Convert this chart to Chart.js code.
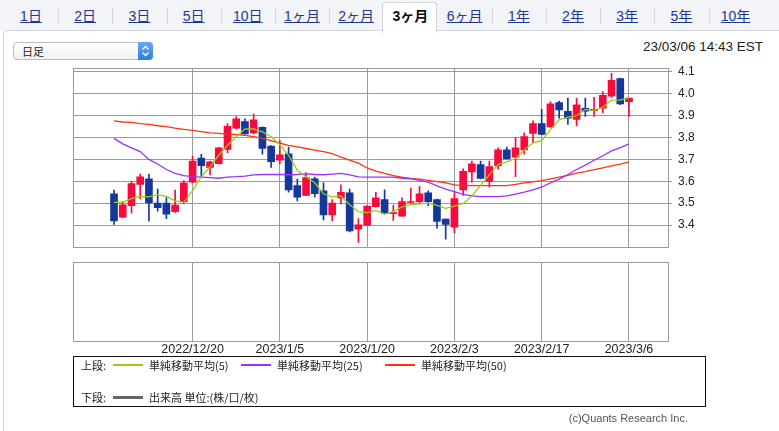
<!DOCTYPE html>
<html lang="ja">
<head>
<meta charset="utf-8">
<script src="https://cdn.jsdelivr.net/npm/chart.js@4.4.1/dist/chart.umd.min.js"></script>
<style>
  html, body { margin: 0; padding: 0; background: #fff; }
  body { width: 779px; height: 431px; position: relative; overflow: hidden;
         font-family: "Liberation Sans", Arial, "Noto Sans CJK JP", sans-serif; color: #222; }
  #tabbar { position: absolute; left: 0; top: 0; width: 779px; height: 30px; background: #f2f4f8; }
  #panel { position: absolute; left: 3px; top: 30px; width: 800px; height: 420px; background: #fff;
           border-top: 1px solid #cfd6e0; border-left: 1px solid #cfd6e0; border-top-left-radius: 4px; }
  .tab { position: absolute; top: 6px; height: 20px; width: 54px; text-align: center; font-size: 14px;
         color: #1d3796; text-decoration: underline; line-height: 20px; }
  .tab.sel { color: #111; font-weight: bold; text-decoration: none; }
  #seltab { position: absolute; top: 2px; left: 382px; width: 53px; height: 30px; background: #fff;
            border: 1px solid #cfd6e0; border-bottom: none; border-radius: 3px 3px 0 0; }
  .sep { position: absolute; top: 8px; width: 1px; height: 16px; background: #d3d7de; }
  #select { position: absolute; left: 13px; top: 42px; width: 138px; height: 16px; border: 1px solid #bcbcbc;
            border-radius: 4px; background: linear-gradient(#fff, #f1f1f1); font-size: 11px; line-height: 16px; }
  #select span { position: absolute; left: 8px; top: 0; font-family: "Noto Sans CJK JP", sans-serif; }
  #select .step { position: absolute; right: -1px; top: -1px; width: 15px; height: 18px; border-radius: 0 4px 4px 0;
                  background: linear-gradient(#6aa8f7, #2f7be6); }
  #stamp { position: absolute; right: 16px; top: 39px; font-size: 13.5px; color: #222; }
  canvas { position: absolute; left: 0; }
  #legend { position: absolute; left: 73px; top: 356px; width: 631px; height: 49px; border: 1px solid #111;
            font-size: 11px; font-family: "Noto Sans CJK JP", sans-serif; color: #222; }
  .lg { position: absolute; white-space: nowrap; line-height: 14px; }
  .sw { position: absolute; }
  #copy { position: absolute; right: 91px; top: 412px; font-size: 11px; color: #555; }
</style>
</head>
<body>
<div id="tabbar"></div>
<div id="panel"></div>
<div id="seltab"></div>
<div id="tabs"></div>
<div id="select"><span>日足</span><div class="step">
  <svg width="15" height="18" viewBox="0 0 15 18"><path d="M4.5 7.5 L7.5 4.5 L10.5 7.5 M4.5 10.5 L7.5 13.5 L10.5 10.5" stroke="#fff" stroke-width="1.3" fill="none"/></svg>
</div></div>
<div id="stamp">23/03/06 14:43 EST</div>
<canvas id="price" width="779" height="205" style="top:55px"></canvas>
<canvas id="volume" width="779" height="115" style="top:255px"></canvas>
<div id="legend"></div>
<div id="copy">(c)Quants Research Inc.</div>
<script>
// 期間タブ
const tabNames = ['1日', '2日', '3日', '5日', '10日', '1ヶ月', '2ヶ月', '3ヶ月', '6ヶ月', '1年', '2年', '3年', '5年', '10年'];
const selectedTab = '3ヶ月';

// 日付（日足）
const dates = [
  '2022/12/7', '2022/12/8', '2022/12/9', '2022/12/12', '2022/12/13', '2022/12/14', '2022/12/15', '2022/12/16', '2022/12/19',
  '2022/12/20', '2022/12/21', '2022/12/22', '2022/12/23', '2022/12/27', '2022/12/28', '2022/12/29', '2022/12/30', '2023/1/3', '2023/1/4',
  '2023/1/5', '2023/1/6', '2023/1/9', '2023/1/10', '2023/1/11', '2023/1/12', '2023/1/13', '2023/1/17', '2023/1/18', '2023/1/19',
  '2023/1/20', '2023/1/23', '2023/1/24', '2023/1/25', '2023/1/26', '2023/1/27', '2023/1/30', '2023/1/31', '2023/2/1', '2023/2/2',
  '2023/2/3', '2023/2/6', '2023/2/7', '2023/2/8', '2023/2/9', '2023/2/10', '2023/2/13', '2023/2/14', '2023/2/15', '2023/2/16',
  '2023/2/17', '2023/2/21', '2023/2/22', '2023/2/23', '2023/2/24', '2023/2/27', '2023/2/28', '2023/3/1', '2023/3/2', '2023/3/3',
  '2023/3/6'
];

// 四本値
const opens = [3.543, 3.436, 3.489, 3.586, 3.611, 3.500, 3.500, 3.461, 3.507, 3.596,
               3.706, 3.664, 3.681, 3.746, 3.843, 3.873, 3.821, 3.847, 3.761, 3.697,
               3.726, 3.581, 3.536, 3.611, 3.556, 3.446, 3.524, 3.547, 3.381, 3.399,
               3.484, 3.517, 3.452, 3.441, 3.503, 3.507, 3.547, 3.517, 3.427, 3.390,
               3.561, 3.643, 3.676, 3.600, 3.671, 3.744, 3.710, 3.744, 3.819, 3.864,
               3.849, 3.960, 3.920, 3.883, 3.933, 3.923, 3.934, 3.989, 4.070, 3.964];
const highs = [3.560, 3.507, 3.600, 3.633, 3.633, 3.564, 3.526, 3.560, 3.603, 3.714,
               3.723, 3.693, 3.755, 3.864, 3.896, 3.886, 3.907, 3.849, 3.763, 3.786,
               3.757, 3.610, 3.640, 3.619, 3.593, 3.517, 3.584, 3.564, 3.430, 3.489,
               3.550, 3.561, 3.491, 3.524, 3.569, 3.577, 3.556, 3.519, 3.429, 3.553,
               3.657, 3.693, 3.693, 3.693, 3.753, 3.757, 3.800, 3.821, 3.876, 3.929,
               3.963, 3.967, 3.980, 3.980, 3.980, 3.984, 4.010, 4.093, 4.072, 3.980];
const lows = [3.403, 3.434, 3.454, 3.519, 3.419, 3.463, 3.429, 3.458, 3.497, 3.594,
              3.621, 3.629, 3.679, 3.731, 3.840, 3.815, 3.817, 3.724, 3.664, 3.681,
              3.550, 3.510, 3.534, 3.529, 3.424, 3.419, 3.497, 3.369, 3.321, 3.397,
              3.482, 3.451, 3.421, 3.439, 3.501, 3.497, 3.489, 3.386, 3.336, 3.364,
              3.536, 3.596, 3.611, 3.574, 3.656, 3.701, 3.621, 3.724, 3.776, 3.812,
              3.847, 3.889, 3.860, 3.853, 3.897, 3.897, 3.913, 3.984, 3.950, 3.897];
const closes = [3.419, 3.493, 3.590, 3.620, 3.501, 3.480, 3.450, 3.491, 3.593, 3.693,
                3.671, 3.689, 3.753, 3.851, 3.886, 3.817, 3.881, 3.750, 3.690, 3.721,
                3.561, 3.527, 3.617, 3.544, 3.446, 3.500, 3.550, 3.373, 3.401, 3.487,
                3.524, 3.453, 3.455, 3.507, 3.507, 3.543, 3.507, 3.417, 3.403, 3.521,
                3.646, 3.680, 3.613, 3.667, 3.744, 3.703, 3.753, 3.804, 3.864, 3.814,
                3.954, 3.926, 3.889, 3.950, 3.921, 3.929, 3.993, 4.061, 3.954, 3.980];

// 単純移動平均
const sma5 = [3.504, 3.504, 3.521, 3.531, 3.529, 3.539, 3.531, 3.511, 3.504, 3.557,
              3.621, 3.667, 3.719, 3.764, 3.804, 3.839, 3.839, 3.826, 3.804, 3.767,
              3.719, 3.650, 3.621, 3.593, 3.543, 3.529, 3.533, 3.493, 3.461, 3.457,
              3.467, 3.450, 3.461, 3.483, 3.493, 3.497, 3.500, 3.490, 3.476, 3.486,
              3.499, 3.533, 3.581, 3.629, 3.676, 3.689, 3.704, 3.743, 3.776, 3.786,
              3.836, 3.881, 3.893, 3.900, 3.929, 3.924, 3.939, 3.971, 3.971, 3.983];
const sma25 = [3.796, 3.771, 3.753, 3.736, 3.700, 3.679, 3.654, 3.636, 3.626, 3.621,
               3.619, 3.617, 3.614, 3.619, 3.621, 3.624, 3.629, 3.631, 3.631, 3.631,
               3.630, 3.631, 3.634, 3.631, 3.630, 3.633, 3.636, 3.629, 3.620, 3.619,
               3.619, 3.619, 3.619, 3.614, 3.611, 3.604, 3.596, 3.579, 3.564, 3.553,
               3.540, 3.533, 3.530, 3.530, 3.530, 3.533, 3.541, 3.550, 3.561, 3.574,
               3.593, 3.610, 3.631, 3.654, 3.674, 3.696, 3.717, 3.739, 3.754, 3.771];
const sma50 = [3.876, 3.871, 3.869, 3.864, 3.860, 3.854, 3.850, 3.843, 3.837, 3.833,
               3.827, 3.821, 3.819, 3.816, 3.814, 3.810, 3.804, 3.796, 3.786, 3.774,
               3.764, 3.757, 3.750, 3.743, 3.736, 3.726, 3.710, 3.697, 3.683, 3.661,
               3.647, 3.636, 3.626, 3.619, 3.613, 3.610, 3.604, 3.599, 3.593, 3.584,
               3.580, 3.580, 3.580, 3.580, 3.580, 3.580, 3.586, 3.593, 3.597, 3.603,
               3.611, 3.619, 3.627, 3.637, 3.644, 3.653, 3.661, 3.670, 3.679, 3.689];

// 目盛り
const priceTicks = [3.4, 3.5, 3.6, 3.7, 3.8, 3.9, 4.0, 4.1];
const dateTicks = ['2022/12/20', '2023/1/5', '2023/1/20', '2023/2/3', '2023/2/17', '2023/3/6'];

// 凡例
const maNames = ['単純移動平均(5)', '単純移動平均(25)', '単純移動平均(50)'];
const maColors = ['#99cc11', '#9b30ff', '#ff3311'];
const volumeName = '出来高 単位:(株/口/枚)';

const UP = '#fa0a3c';
const DOWN = '#13389a';
const GRID = '#9a9a9a';

// タブ
const tabsEl = document.getElementById('tabs');
tabNames.forEach((t, k) => {
  const d = document.createElement('div');
  d.className = 'tab' + (t === selectedTab ? ' sel' : '');
  d.style.left = (4 + k * 54.2) + 'px';
  d.textContent = t;
  tabsEl.appendChild(d);
  if (k > 0 && t !== selectedTab && tabNames[k - 1] !== selectedTab) {
    const s = document.createElement('div');
    s.className = 'sep';
    s.style.left = Math.round(4 + k * 54.2) + 'px';
    tabsEl.appendChild(s);
  }
});

// 凡例 (HTML)
const lg = document.getElementById('legend');
lg.innerHTML =
  '<div class="lg" style="left:7px;top:1px">上段:</div>' +
  maNames.map((n, k) => {
    const x = [39, 167, 311][k];
    return '<div class="sw" style="left:' + x + 'px;top:7px;width:30px;height:2px;background:' + maColors[k] + '"></div>' +
           '<div class="lg" style="left:' + (x + 36) + 'px;top:1px">' + n + '</div>';
  }).join('') +
  '<div class="lg" style="left:7px;top:33px">下段:</div>' +
  '<div class="sw" style="left:39px;top:39px;width:30px;height:3px;background:#666"></div>' +
  '<div class="lg" style="left:75px;top:33px">' + volumeName + '</div>';

Chart.defaults.font.family = '"Liberation Sans", Arial, sans-serif';
Chart.defaults.color = '#333';
Chart.defaults.animation = false;

const tickIdx = dateTicks.map(t => dates.indexOf(t));
const candleColor = dates.map((d, i) => closes[i] >= opens[i] ? UP : DOWN);
const xMin = -4.7;
const xMax = 63.47;

// 枠線
const frame = {
  id: 'frame',
  afterDraw(chart) {
    const a = chart.chartArea, c = chart.ctx;
    c.save();
    c.strokeStyle = GRID;
    c.lineWidth = 1;
    c.strokeRect(Math.round(a.left) + 0.5, Math.round(a.top) + 0.5,
                 Math.round(a.right - a.left), Math.round(a.bottom - a.top));
    c.restore();
  }
};

const xScale = (showLabels) => ({
  type: 'linear',
  min: xMin,
  max: xMax,
  offset: false,
  afterBuildTicks: s => { s.ticks = tickIdx.map(v => ({ value: v })); },
  grid: { color: GRID, drawTicks: false, offset: false },
  border: { display: false },
  ticks: {
    display: showLabels,
    padding: 1,
    font: { size: 12.5 },
    color: '#222',
    maxRotation: 0,
    autoSkip: false,
    callback: v => dates[v]
  },
  afterFit: s => { s.height = showLabels ? 29 : 0; }
});

new Chart(document.getElementById('price'), {
  type: 'bar',
  data: {
    datasets: [
      ...[sma5, sma25, sma50].map((arr, k) => ({
        type: 'line',
        label: maNames[k],
        data: arr.map((v, i) => ({ x: i, y: v })),
        borderColor: maColors[k],
        borderWidth: 1.3,
        pointRadius: 0,
        tension: 0,
        order: 0
      })),
      {
        label: 'wick',
        data: dates.map((d, i) => ({ x: i, y: [lows[i], highs[i]] })),
        backgroundColor: candleColor,
        barThickness: 1,
        grouped: false,
        order: 2
      },
      {
        label: 'body',
        data: dates.map((d, i) => ({ x: i, y: [opens[i], closes[i]] })),
        backgroundColor: candleColor,
        barThickness: 7,
        minBarLength: 1,
        grouped: false,
        order: 1
      }
    ]
  },
  options: {
    responsive: false,
    layout: { padding: { left: 73, right: 0, top: 6, bottom: 8.5 } },
    plugins: { legend: { display: false }, tooltip: { enabled: false } },
    scales: {
      x: xScale(false),
      y: {
        position: 'right',
        min: 3.3006,
        max: 4.117,
        afterBuildTicks: s => { s.ticks = priceTicks.map(v => ({ value: v })); },
        grid: { color: GRID, tickLength: 4 },
        border: { display: false },
        ticks: { padding: 6, font: { size: 12 }, color: '#222', callback: v => v.toFixed(1) },
        afterFit: s => { s.width = 111; }
      }
    }
  },
  plugins: [frame]
});

// 下段（出来高）
new Chart(document.getElementById('volume'), {
  type: 'bar',
  data: { datasets: [] },
  options: {
    responsive: false,
    layout: { padding: { left: 73, right: 111, top: 7, bottom: 0 } },
    plugins: { legend: { display: false }, tooltip: { enabled: false } },
    scales: {
      x: xScale(true),
      y: { display: false, min: 0, max: 1 }
    }
  },
  plugins: [frame]
});
</script>
</body>
</html>
